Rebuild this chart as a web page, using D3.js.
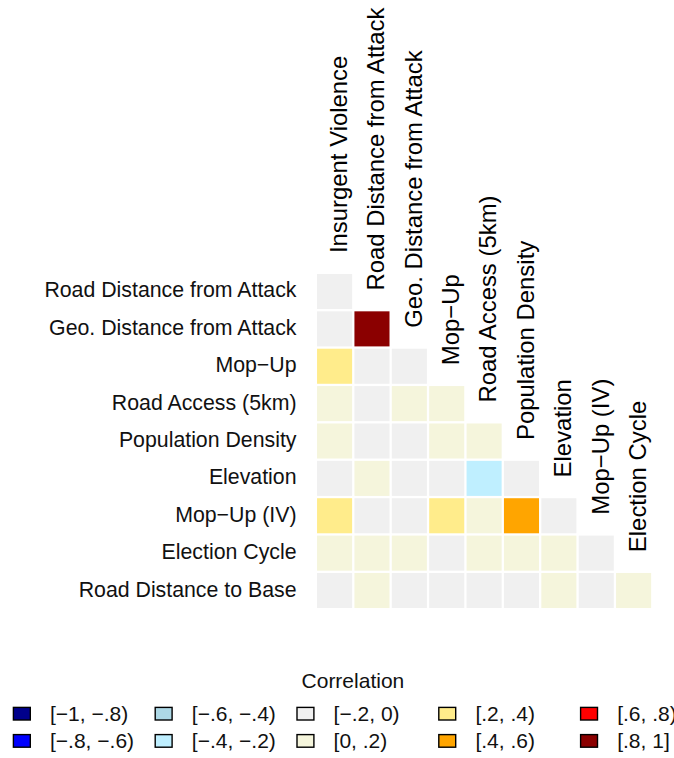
<!DOCTYPE html>
<html>
<head>
<meta charset="utf-8">
<script src="https://cdn.jsdelivr.net/npm/d3@7"></script>
<style>
  html, body { margin: 0; padding: 0; background: #fff; }
  svg { display: block; font-family: "Liberation Sans", Arial, Helvetica, sans-serif; }
</style>
</head>
<body>
<div id="chart"></div>
<script>
// Variables along the columns (diagonal labels) and rows (left labels)
const colVars = [
  "Insurgent Violence", "Road Distance from Attack", "Geo. Distance from Attack",
  "Mop\u2212Up", "Road Access (5km)", "Population Density", "Elevation",
  "Mop\u2212Up (IV)", "Election Cycle"
];
const rowVars = [
  "Road Distance from Attack", "Geo. Distance from Attack", "Mop\u2212Up",
  "Road Access (5km)", "Population Density", "Elevation", "Mop\u2212Up (IV)",
  "Election Cycle", "Road Distance to Base"
];

// Lower-triangle correlations, one list per row (row i has i+1 entries)
const corrRows = [
  [-0.05],
  [-0.04, 0.91],
  [0.27, -0.03, -0.06],
  [0.08, -0.07, 0.05, 0.12],
  [0.11, -0.05, -0.04, 0.09, 0.14],
  [-0.06, 0.03, -0.02, -0.08, -0.31, -0.12],
  [0.26, -0.02, -0.03, 0.33, 0.07, 0.47, -0.09],
  [0.04, 0.02, 0.03, -0.01, 0.06, 0.05, 0.02, -0.04],
  [-0.08, 0.06, -0.10, -0.05, -0.13, -0.07, 0.10, -0.03, 0.04]
];

// Binned colour legend
const binBreaks = [-0.8, -0.6, -0.4, -0.2, 0, 0.2, 0.4, 0.6, 0.8];
const binLabels = [
  "[\u22121, \u2212.8)", "[\u2212.8, \u2212.6)", "[\u2212.6, \u2212.4)", "[\u2212.4, \u2212.2)",
  "[\u2212.2, 0)", "[0, .2)", "[.2, .4)", "[.4, .6)", "[.6, .8)", "[.8, 1]"
];
const binColors = [
  "#00008B", "#0000FF", "#ADD8E6", "#BFEFFF", "#F0F0F0",
  "#F5F5DC", "#FFEC8B", "#FFA500", "#FF0000", "#8B0000"
];

const W = 674, H = 758;
const svg = d3.select("#chart").append("svg")
  .attr("width", W).attr("height", H);
svg.append("rect").attr("width", W).attr("height", H).attr("fill", "#fff");

// Tile grid
const gx0 = 315.9, gy0 = 272.8, gSize = 336.4;
const x = d3.scaleBand().domain(colVars).range([gx0, gx0 + gSize]);
const y = d3.scaleBand().domain(rowVars).range([gy0, gy0 + gSize]);
const yIdx = d3.scaleLinear().domain([0, rowVars.length]).range([gy0, gy0 + gSize]);
const color = d3.scaleThreshold().domain(binBreaks).range(binColors);

const cells = [];
corrRows.forEach((vals, i) => {
  vals.forEach((v, j) => cells.push({ row: rowVars[i], col: colVars[j], value: v }));
});

const gap = 1.15;
svg.append("g").selectAll("rect")
  .data(cells)
  .join("rect")
  .attr("x", d => x(d.col) + gap)
  .attr("y", d => y(d.row) + gap)
  .attr("width", x.bandwidth() - 2 * gap)
  .attr("height", y.bandwidth() - 2 * gap)
  .attr("fill", d => color(d.value));

// Row labels on the left
svg.append("g").selectAll("text")
  .data(rowVars)
  .join("text")
  .attr("x", 296.5)
  .attr("y", d => y(d) + y.bandwidth() / 2 + 6)
  .attr("text-anchor", "end")
  .attr("font-size", 21.3)
  .attr("fill", "#111")
  .text(d => d);

// Diagonal column labels, rotated upwards
svg.append("g").selectAll("text")
  .data(colVars)
  .join("text")
  .attr("transform", (d, j) => {
    const cx = x(d) + x.bandwidth() / 2 + 12.3;
    const cy = yIdx(j - 0.5) - 1;
    return `translate(${cx},${cy}) rotate(-90)`;
  })
  .attr("text-anchor", "start")
  .attr("font-size", 23.9)
  .attr("fill", "#000")
  .text(d => d);

// Legend
const legend = svg.append("g");
legend.append("text")
  .attr("x", 352.9).attr("y", 687.7)
  .attr("text-anchor", "middle")
  .attr("font-size", 21)
  .attr("fill", "#111")
  .text("Correlation");

const items = binLabels.map((label, k) => ({ label, fill: binColors[k], col: Math.floor(k / 2), row: k % 2 }));
const item = legend.selectAll("g.item")
  .data(items)
  .join("g")
  .attr("class", "item")
  .attr("transform", d => `translate(${12.7 + d.col * 141.8},${706.7 + d.row * 27.2})`);

item.append("rect")
  .attr("x", 0.7).attr("y", 0.7)
  .attr("width", 16.9).attr("height", 12.6)
  .attr("fill", d => d.fill)
  .attr("stroke", "#000")
  .attr("stroke-width", 1.4);

item.append("text")
  .attr("x", 37.3).attr("y", 14)
  .attr("font-size", 21)
  .attr("fill", "#111")
  .text(d => d.label);
</script>
</body>
</html>
